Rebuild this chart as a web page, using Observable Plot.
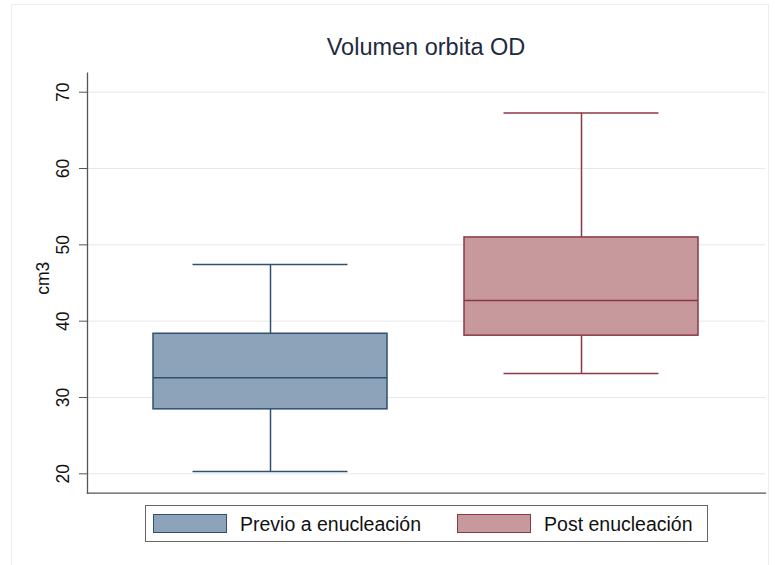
<!DOCTYPE html>
<html>
<head>
<meta charset="utf-8">
<script src="https://cdn.jsdelivr.net/npm/d3@7"></script>
<script src="https://cdn.jsdelivr.net/npm/@observablehq/plot@0.6"></script>
<style>
  html, body { margin: 0; padding: 0; background: #fff; }
  #wrap { position: relative; width: 775px; height: 565px; overflow: hidden; font-family: "Liberation Sans", Arial, Helvetica, sans-serif; }
  #outer { position: absolute; left: 11px; top: 4px; width: 758px; height: 600px; border: 1px solid #ededed; box-sizing: border-box; }
  #title { position: absolute; left: 87px; width: 678px; top: 36px; text-align: center; font-size: 23.5px; line-height: 23.5px; color: #1e2a3e; white-space: nowrap; }
  #chart { position: absolute; left: 0; top: 0; }
  #legend { position: absolute; left: 145px; top: 505px; width: 563px; height: 37px; box-sizing: border-box; border: 1px solid #666; display: flex; align-items: center; padding-left: 7px; background: #fff; white-space: nowrap; }
  .item { display: flex; align-items: center; gap: 13px; margin-right: 36px; flex-shrink: 0; }
  .sw { width: 74px; height: 19px; box-sizing: border-box; border: 1.5px solid; flex-shrink: 0; }
  .lab { font-size: 19.5px; color: #111; position: relative; top: 1px; white-space: nowrap; }
</style>
</head>
<body>
<div id="wrap">
  <div id="outer"></div>
  <div id="chart"></div>
  <div id="title">Volumen orbita OD</div>
  <div id="legend"></div>
</div>
<script>
const groups = ["Previo a enucleación", "Post enucleación"];
const lowerWhisker = [20.3, 33.15];
const q1 = [28.45, 38.1];
const median = [32.6, 42.7];
const q3 = [38.35, 50.97];
const upperWhisker = [47.43, 67.26];
const fills = ["#8ca3b9", "#c7999d"];
const strokes = ["#31506f", "#8b3a44"];
const yTicks = [20, 30, 40, 50, 60, 70];
const yDomain = [17.46, 72.49];

const data = groups.map((g, i) => ({
  group: g, lo: lowerWhisker[i], q1: q1[i], med: median[i], q3: q3[i], hi: upperWhisker[i],
  fill: fills[i], stroke: strokes[i]
}));

const chart = Plot.plot({
  width: 775,
  height: 565,
  marginLeft: 87,
  marginRight: 10,
  marginTop: 72.7,
  marginBottom: 72.3,
  style: { fontFamily: "'Liberation Sans', Arial, sans-serif", background: "transparent", overflow: "visible" },
  x: { type: "band", domain: groups, paddingInner: 0.247, paddingOuter: 0.2115, axis: null },
  y: { domain: yDomain, axis: null },
  color: { type: "identity" },
  marks: [
    Plot.gridY(yTicks, { stroke: "#e8e8e8", strokeOpacity: 1, strokeWidth: 1 }),
    Plot.ruleX(data, { x: "group", y1: "lo", y2: "q1", stroke: "stroke", strokeWidth: 1.5 }),
    Plot.ruleX(data, { x: "group", y1: "q3", y2: "hi", stroke: "stroke", strokeWidth: 1.5 }),
    Plot.tickY(data, { x: "group", y: "lo", insetLeft: 39.5, insetRight: 39.5, stroke: "stroke", strokeWidth: 1.5 }),
    Plot.tickY(data, { x: "group", y: "hi", insetLeft: 39.5, insetRight: 39.5, stroke: "stroke", strokeWidth: 1.5 }),
    Plot.barY(data, { x: "group", y1: "q1", y2: "q3", fill: "fill", stroke: "stroke", strokeWidth: 1.5 }),
    Plot.tickY(data, { x: "group", y: "med", stroke: "stroke", strokeWidth: 1.5 }),
    Plot.frame({ anchor: "left", stroke: "#555", strokeWidth: 1.3 }),
    Plot.frame({ anchor: "bottom", stroke: "#555", strokeWidth: 1.3 }),
    Plot.axisY({ ticks: yTicks, tickSize: 8, tickRotate: -90, textAnchor: "middle", lineAnchor: "middle",
                 tickPadding: 16, fontSize: 17.5, label: null, stroke: "#555", fill: "#111" }),
    Plot.text(["cm3"], { frameAnchor: "left", dx: -44, dy: -5, rotate: -90, fontSize: 17.5,
                         textAnchor: "middle", lineAnchor: "middle", fill: "#111" })
  ]
});
document.getElementById("chart").appendChild(chart);

const legend = document.getElementById("legend");
groups.forEach((g, i) => {
  const item = document.createElement("div");
  item.className = "item";
  const sw = document.createElement("div");
  sw.className = "sw";
  sw.style.background = fills[i];
  sw.style.borderColor = strokes[i];
  const lab = document.createElement("span");
  lab.className = "lab";
  lab.textContent = g;
  item.appendChild(sw);
  item.appendChild(lab);
  legend.appendChild(item);
});
</script>
</body>
</html>
